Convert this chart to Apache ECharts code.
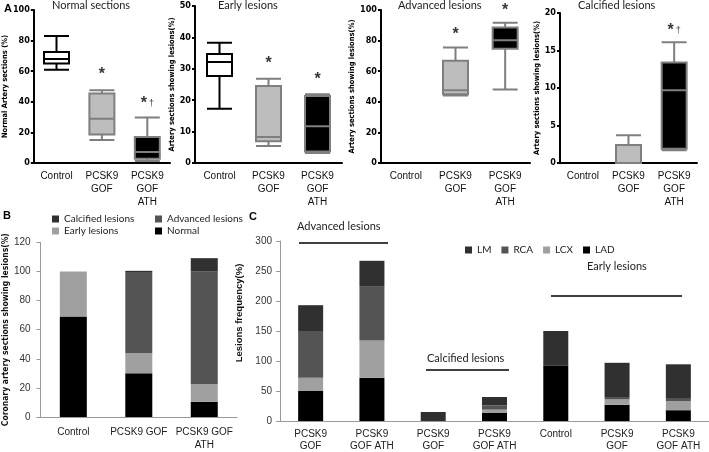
<!DOCTYPE html>
<html><head><meta charset="utf-8">
<script src="https://cdn.jsdelivr.net/npm/echarts@6/dist/echarts.min.js"></script>
<style>html,body{margin:0;padding:0;background:#fff}#c{width:709px;height:452px}</style>
</head><body><div id="c"></div>
<script>
// ---------- DATA ----------
const catsA = ['Control', 'PCSK9\nGOF', 'PCSK9\nGOF\nATH'];
const titlesA = ['Normal sections', 'Early lesions', 'Advanced lesions', 'Calcified lesions'];
const yNamesA = ['Normal Artery sections (%)', 'Artery sections showing lesions(%)', 'Artery sections showing lesions(%)', 'Artery sections showing lesions(%)'];
const yMaxA = [100, 50, 100, 20];
const yStepA = [20, 10, 20, 5];
// [min, Q1, median, Q3, max]
const normalBox = [[61, 65, 68, 72.5, 83], [15, 18.6, 29, 45.4, 47.6], [1.3, 2.8, 7.2, 17, 29.7]];
const earlyBox = [[17.3, 27.7, 32.2, 34.7, 38.3], [5.4, 6.9, 8.3, 24.5, 26.8], [3.2, 3.7, 11.7, 21.3, 21.9]];
const advancedBox = [[0, 0, 0, 0, 0], [44.1, 45, 47.6, 66.8, 75.5], [48, 74.7, 80.3, 88.6, 91.7]];
const calcifiedBox = [[0, 0, 0, 0, 0], [0, 0, 0, 2.4, 3.7], [1.7, 1.9, 9.7, 13.4, 16.1]];
// significance marks: [category index, y value, mark]
const starsNormal = [[1, 58, '*'], [2, 39, '*†']];
const starsEarly = [[1, 31.8, '*'], [2, 26.5, '*']];
const starsAdvanced = [[1, 83.8, '*'], [2, 99.8, '*']];
const starsCalcified = [[2, 17.6, '*†']];

const catsB = ['Control', 'PCSK9 GOF', 'PCSK9 GOF\nATH'];
const bNormal = [69, 30, 10.5];
const bEarly = [31, 14, 12];
const bAdvanced = [0, 55.6, 77.4];
const bCalcified = [0, 0.8, 9.2];

const catsC = ['PCSK9\nGOF', 'PCSK9\nGOF ATH', 'PCSK9\nGOF', 'PCSK9\nGOF ATH', 'Control', 'PCSK9\nGOF', 'PCSK9\nGOF ATH'];
const cLAD = [50, 72, 0, 14, 92, 27, 18];
const cLCX = [22, 62, 0, 5, 0, 9, 15];
const cRCA = [78, 90, 0, 7, 0, 4, 4];
const cLM = [43, 43, 15, 14, 58, 57, 57.5];

// ---------- STYLE ----------
const boxStyles = [
  { color: '#ffffff', borderColor: '#000000' },
  { color: '#bdbdbd', borderColor: '#7f7f7f' },
  { color: '#000000', borderColor: '#7f7f7f' }
];
const narrow = '"Liberation Sans Narrow","DejaVu Sans Condensed",sans-serif';
const arial = '"Liberation Sans",Arial,sans-serif';
const cal = 'Lato,"Open Sans",sans-serif';
const gridsA = [
  { left: 31, top: 10, width: 139, height: 153 },
  { left: 195, top: 6, width: 147, height: 157 },
  { left: 381, top: 10, width: 149, height: 153 },
  { left: 560, top: 13, width: 137, height: 150 }
];
const nameGapsA = [23, 15, 15, 14];
const boxes = [normalBox, earlyBox, advancedBox, calcifiedBox];
const stars = [starsNormal, starsEarly, starsAdvanced, starsCalcified];

const grid = [], xAxis = [], yAxis = [], series = [], graphic = [];
for (let i = 0; i < 4; i++) {
  grid.push(gridsA[i]);
  xAxis.push({
    type: 'category', gridIndex: i, data: catsA,
    axisLine: { lineStyle: { color: '#000', width: 2 } },
    axisTick: { alignWithLabel: true, length: 3, lineStyle: { color: '#000', width: 1.5 } },
    axisLabel: { fontSize: 10, color: '#111', margin: 7, lineHeight: 13, fontFamily: arial, interval: 0 }
  });
  yAxis.push({
    type: 'value', gridIndex: i, min: 0, max: yMaxA[i], interval: yStepA[i],
    splitLine: { show: false },
    axisLine: { show: true, lineStyle: { color: '#000', width: 2 } },
    axisTick: { show: true, length: 3, lineStyle: { color: '#000', width: 2 } },
    axisLabel: { fontSize: 9, fontWeight: 'bold', color: '#000', margin: 4, fontFamily: narrow },
    name: yNamesA[i], nameLocation: 'middle', nameGap: nameGapsA[i],
    nameTextStyle: { fontSize: 7.5, fontWeight: 'bold', color: '#000', fontFamily: narrow }
  });
  series.push({
    type: 'boxplot', xAxisIndex: i, yAxisIndex: i, boxWidth: [25, 25],
    data: boxes[i].map((v, k) => ({ value: v, itemStyle: Object.assign({ borderWidth: 2 }, boxStyles[k]) })),
    itemStyle: { borderWidth: 2 }, silent: true
  });
  series.push({
    type: 'scatter', xAxisIndex: i, yAxisIndex: i, data: stars[i], symbolSize: 2,
    itemStyle: { color: 'rgba(255,255,255,0)' }, clip: false, silent: true, z: 10,
    label: {
      show: true, position: 'inside', color: '#000',
      formatter: p => p.value[2] === '*†' ? '{s|*}{d|†}' : '{s|*}',
      rich: { s: { fontSize: 16, fontWeight: 'bold', fontFamily: arial, color: '#000' }, d: { fontSize: 9, fontFamily: arial, color: '#000', padding: [0, 0, 0, 2] } }
    }
  });
  graphic.push({ type: 'text', left: [52, 218, 398, 578][i], top: 0, style: { text: titlesA[i], font: '11px ' + cal, fill: '#222' } });
}

// Panel B
grid.push({ left: 35, top: 242.3, width: 202, height: 182 });
xAxis.push({
  type: 'category', gridIndex: 4, data: catsB,
  axisLine: { lineStyle: { color: '#999' } },
  axisTick: { length: 4, lineStyle: { color: '#999' } },
  axisLabel: { fontSize: 10, color: '#222', margin: 9, lineHeight: 13, fontFamily: arial, interval: 0 }
});
yAxis.push({
  type: 'value', gridIndex: 4, min: 0, max: 120, interval: 20, splitLine: { show: false },
  axisLine: { show: true, lineStyle: { color: '#999' } },
  axisTick: { show: true, length: 4, lineStyle: { color: '#999' } },
  axisLabel: { fontSize: 10, color: '#333', margin: 10, fontFamily: arial },
  name: 'Coronary artery sections showing lesions(%)', nameLocation: 'middle', nameGap: 22,
  nameTextStyle: { fontSize: 8.5, fontWeight: 'bold', color: '#111', fontFamily: narrow }
});
const bSeries = [['Normal', bNormal, '#000000'], ['Early lesions', bEarly, '#a0a0a0'], ['Advanced lesions', bAdvanced, '#545454'], ['Calcified lesions', bCalcified, '#303030']];
bSeries.forEach(([n, d, c]) => series.push({ name: n, type: 'bar', stack: 'b', xAxisIndex: 4, yAxisIndex: 4, data: d, barWidth: 27, itemStyle: { color: c }, silent: true }));

// Panel C
grid.push({ left: 280, top: 241, width: 430, height: 182.5 });
xAxis.push({
  type: 'category', gridIndex: 5, data: catsC,
  axisLine: { lineStyle: { color: '#999' } },
  axisTick: { length: 4, lineStyle: { color: '#999' } },
  axisLabel: { fontSize: 10, color: '#222', margin: 7, lineHeight: 12, fontFamily: arial, interval: 0 }
});
yAxis.push({
  type: 'value', gridIndex: 5, min: 0, max: 300, interval: 50, splitLine: { show: false },
  axisLine: { show: true, lineStyle: { color: '#999' } },
  axisTick: { show: true, length: 4, lineStyle: { color: '#999' } },
  axisLabel: { fontSize: 10, color: '#333', margin: 8, fontFamily: arial },
  name: 'Lesions frequency(%)', nameLocation: 'middle', nameGap: 28,
  nameTextStyle: { fontSize: 9.5, fontWeight: 'bold', color: '#111', fontFamily: arial, padding: [0, 0, 0, 36] }
});
const cSeries = [['LAD', cLAD, '#000000'], ['LCX', cLCX, '#a0a0a0'], ['RCA', cRCA, '#545454'], ['LM', cLM, '#303030']];
cSeries.forEach(([n, d, c]) => series.push({ name: n, type: 'bar', stack: 'c', xAxisIndex: 5, yAxisIndex: 5, data: d, barWidth: 25, itemStyle: { color: c }, silent: true }));

// panel letters and group annotations
graphic.push(
  { type: 'text', left: 4, top: 3, style: { text: 'A', font: 'bold 11px ' + arial, fill: '#000' } },
  { type: 'text', left: 3, top: 210, style: { text: 'B', font: 'bold 11px ' + arial, fill: '#000' } },
  { type: 'text', left: 249, top: 211, style: { text: 'C', font: 'bold 11px ' + arial, fill: '#000' } },
  { type: 'text', left: 297, top: 221, style: { text: 'Advanced lesions', font: '11px ' + cal, fill: '#222' } },
  { type: 'line', shape: { x1: 299, y1: 243, x2: 388, y2: 243 }, style: { stroke: '#000', lineWidth: 1.5 } },
  { type: 'text', left: 427, top: 353, style: { text: 'Calcified lesions', font: '11px ' + cal, fill: '#222' } },
  { type: 'line', shape: { x1: 426, y1: 370, x2: 509, y2: 370 }, style: { stroke: '#000', lineWidth: 1.5 } },
  { type: 'text', left: 587, top: 261, style: { text: 'Early lesions', font: '11px ' + cal, fill: '#222' } },
  { type: 'line', shape: { x1: 551, y1: 296, x2: 682, y2: 296 }, style: { stroke: '#000', lineWidth: 1.5 } }
);

const legendText = { fontSize: 10, color: '#222', fontFamily: cal };
const option = {
  animation: false,
  grid, xAxis, yAxis, series, graphic,
  legend: [
    { data: ['Calcified lesions', 'Early lesions'], orient: 'vertical', left: 47, top: 209, itemWidth: 7, itemHeight: 7, itemGap: 2, icon: 'rect', textStyle: legendText, selectedMode: false },
    { data: ['Advanced lesions', 'Normal'], orient: 'vertical', left: 150, top: 209, itemWidth: 7, itemHeight: 7, itemGap: 2, icon: 'rect', textStyle: legendText, selectedMode: false },
    { data: ['LM', 'RCA', 'LCX', 'LAD'], orient: 'horizontal', left: 460, top: 240, itemWidth: 7, itemHeight: 7, itemGap: 10, icon: 'rect', textStyle: legendText, selectedMode: false }
  ]
};
const chart = echarts.init(document.getElementById('c'), null, { renderer: 'canvas' });
chart.setOption(option);
</script></body></html>
